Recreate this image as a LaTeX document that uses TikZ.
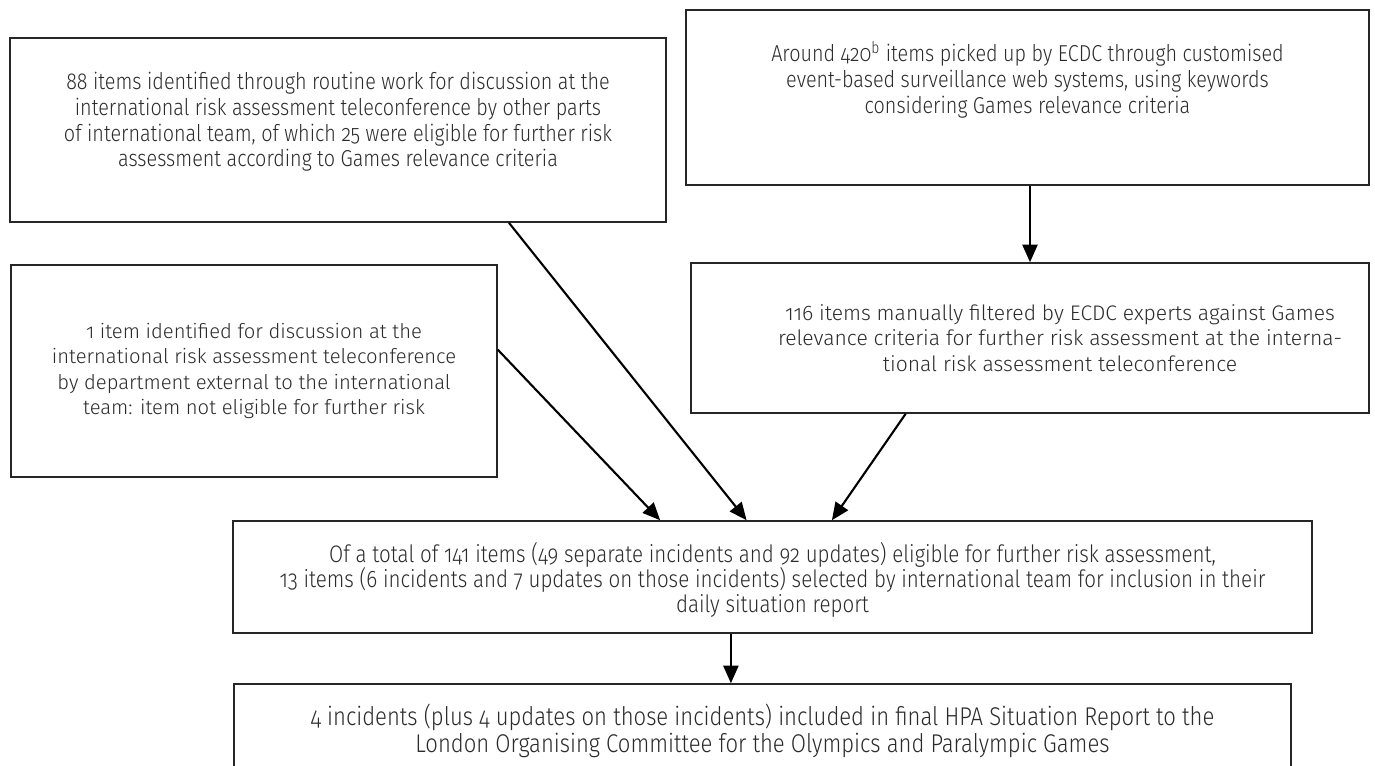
\documentclass[tikz,border=0pt]{standalone}
\usepackage{fontspec}
\setmainfont{Fira Sans}[UprightFont=* Light, Numbers=OldStyle]
\newfontfamily\narrowfont{Fira Sans}[UprightFont=* Light, Numbers=OldStyle, FakeStretch=0.86]
\usepackage{tikz}
\usetikzlibrary{arrows.meta, positioning, calc}
\definecolor{BoxLine}{HTML}{262626}
\definecolor{BodyText}{HTML}{2B2B2B}
% strut that pushes the text block up inside a tall box
\newcommand{\sinkstrut}[1]{\rule[-#1]{0pt}{0pt}}
% left padding that moves a centred line to the right
\newcommand{\padleft}{\hspace*{1.2cm}}

\begin{document}
\begin{tikzpicture}[x=0.02cm, y=-0.02cm,
    stagebox/.style={draw=BoxLine, line width=0.9pt, inner sep=0pt, align=center,
                     text=BodyText, font=\fontsize{11.5}{14.4}\selectfont},
    narrowbox/.style={stagebox, font=\narrowfont\fontsize{13.1}{14.7}\selectfont},
    flow/.style={line width=1.2pt, -{Triangle[length=0.35cm, width=0.3cm]}}]
\useasboundingbox (0,0) rectangle (1375,765);

% sources
\node[narrowbox, minimum width=13.12cm, minimum height=3.68cm] (routine) at (338,130) {
    88 items identified through routine work for discussion at the\\
    international risk assessment teleconference by other parts\\
    of international team, of which 25 were eligible for further risk\\
    assessment according to Games relevance criteria\sinkstrut{0.42cm}
};
\node[narrowbox, minimum width=13.66cm, minimum height=3.5cm] (ecdcweb) at (1027.5,97.5) {
    Around 420\textsuperscript{b} items picked up by ECDC through customised\\
    event-based surveillance web systems, using keywords\\
    considering Games relevance criteria\sinkstrut{0.8cm}
};
\node[stagebox, minimum width=9.72cm, minimum height=4.24cm] (external) at (254,371) {
    1 item identified for discussion at the\\
    international risk assessment teleconference\\
    by department external to the international\\
    team: item not eligible for further risk
};
\node[stagebox, font=\fontsize{12}{14.4}\selectfont,
      minimum width=13.56cm, minimum height=3.0cm] (filtered) at (1030,338) {
    \padleft 116 items manually filtered by ECDC experts against Games\\
    \padleft relevance criteria for further risk assessment at the interna-\\
    \padleft tional risk assessment teleconference
};

% outcome
\node[narrowbox, font=\narrowfont\fontsize{13.6}{14.2}\selectfont,
      minimum width=21.58cm, minimum height=2.24cm] (eligible) at (772.5,577) {
    \rule{0pt}{0.5cm}Of a total of 141 items (49 separate incidents and 92 updates) eligible for further risk assessment,\\
    13 items (6 incidents and 7 updates on those incidents) selected by international team for inclusion in their\\
    daily situation report
};
\node[narrowbox, font=\narrowfont\fontsize{14.6}{13.4}\selectfont,
      minimum width=21.14cm, minimum height=1.88cm] (final) at (762.5,731) {
    4 incidents (plus 4 updates on those incidents) included in final HPA Situation Report to the\\
    London Organising Committee for the Olympics and Paralympic Games
};

% connectors
\coordinate (handoff) at ($(eligible.south west)!0.4615!(eligible.south east)$);
\draw[flow] (ecdcweb.south -| filtered.north) -- (filtered.north);
\draw[flow] ($(external.north east)!0.40!(external.south east)$)
    -- ($(eligible.north west)!0.396!(eligible.north east)$);
\draw[flow] ($(routine.south west)!0.760!(routine.south east)$)
    -- ($(eligible.north west)!0.476!(eligible.north east)$);
\draw[flow] ($(filtered.south west)!0.317!(filtered.south east)$)
    -- ($(eligible.north west)!0.555!(eligible.north east)$);
\draw[flow] (handoff) -- (handoff |- final.north);
\end{tikzpicture}
\end{document}
